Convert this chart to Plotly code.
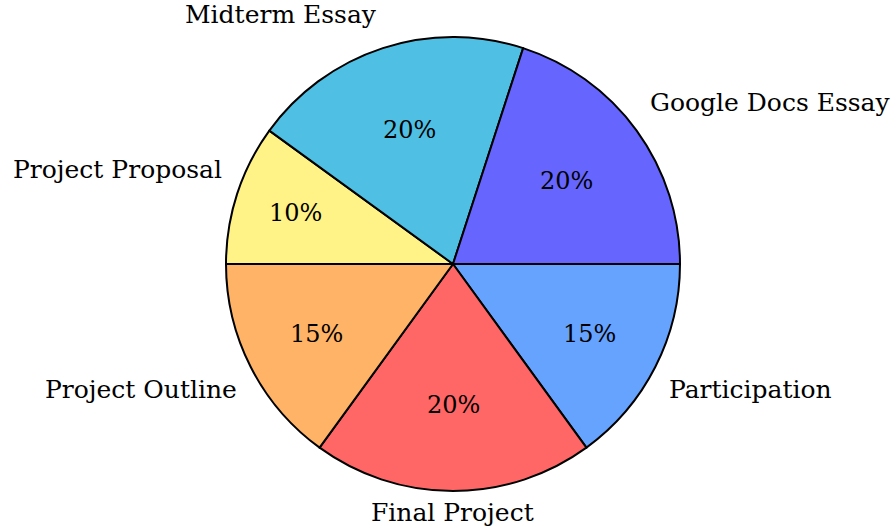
import math
import plotly.graph_objects as go

categories = ["Google Docs Essay", "Midterm Essay", "Project Proposal",
              "Project Outline", "Final Project", "Participation"]
values = [20, 20, 10, 15, 20, 15]
colors = ["#6666FF", "#4FC0E3", "#FFF287", "#FFB366", "#FF6666", "#66A3FF"]

W, H = 891, 529
CX, CY, R = 453, 264, 227  # pie centre / radius in px
FONT = "DejaVu Serif"

# Slices go counterclockwise from 3 o'clock; plotly draws clockwise from
# `rotation`, so feed the series in reverse order.
fig = go.Figure(go.Pie(
    labels=categories[::-1],
    values=values[::-1],
    marker=dict(colors=colors[::-1], line=dict(color="black", width=2)),
    sort=False,
    direction="clockwise",
    rotation=90,
    textinfo="none",
    hoverinfo="label+percent",
    domain=dict(x=[(CX - R) / W, (CX + R) / W],
                y=[(H - CY - R) / H, (H - CY + R) / H]),
))

total = sum(values)
annotations = []
cum = 0.0
for lab, v in zip(categories, values):
    pct = v / total * 100
    mid = (cum + v / 2) / total * 2 * math.pi
    cum += v
    c, s = math.cos(mid), math.sin(mid)
    # percentage inside (smaller slices get their number pushed outward)
    fr = 0.62 + max(0.0, 20 - pct) * 0.011
    px = CX + fr * R * c
    py = CY - fr * R * s
    annotations.append(dict(
        x=px / W, y=1 - py / H, xref="paper", yref="paper",
        text=f"{round(pct)}%", showarrow=False,
        font=dict(family=FONT, size=24, color="black"),
        xanchor="center", yanchor="middle"))
    # label outside
    vertical = abs(c) < 0.1
    rr = (1.02 if vertical else 1.06) * R
    lx = CX + rr * c
    ly = CY - rr * s
    xa = "left" if c > 0.1 else ("right" if c < -0.1 else "center")
    ya = "bottom" if s > 0.1 else ("top" if s < -0.1 else "middle")
    annotations.append(dict(
        x=lx / W, y=1 - ly / H, xref="paper", yref="paper",
        text=lab, showarrow=False,
        font=dict(family=FONT, size=25, color="black"),
        xanchor=xa, yanchor=ya,
        yshift=4 if ya == "bottom" else 0))

fig.update_layout(
    width=W, height=H,
    margin=dict(l=0, r=0, t=0, b=0),
    paper_bgcolor="white", plot_bgcolor="white",
    showlegend=False,
    annotations=annotations,
)

fig.write_html("out.html",
               config={"displayModeBar": False},
               post_script="document.body.style.margin='0';")
